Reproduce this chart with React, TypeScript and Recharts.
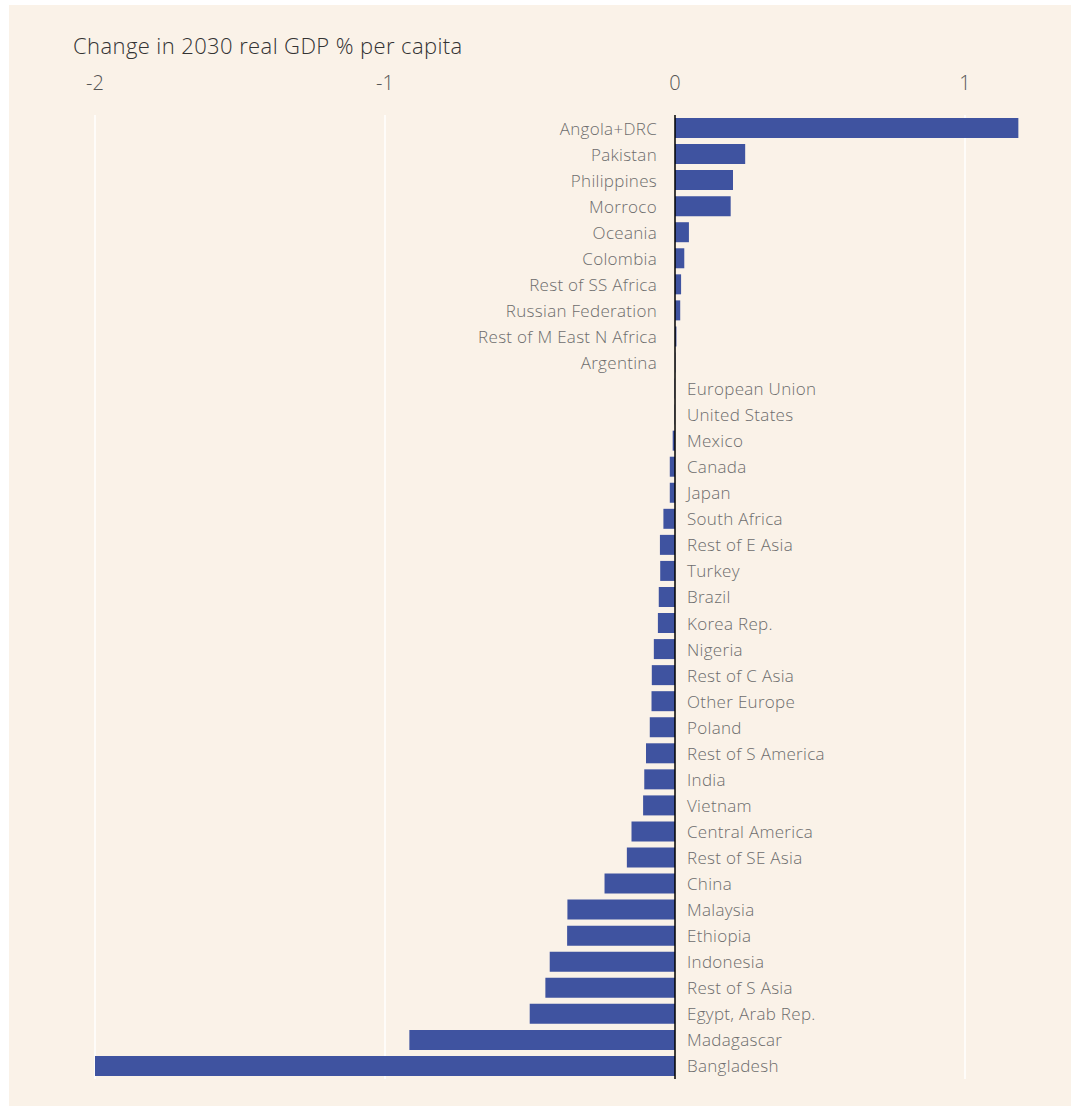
import React from 'react';
import {
  BarChart,
  Bar,
  XAxis,
  YAxis,
  CartesianGrid,
  ReferenceLine,
  LabelList,
} from 'recharts';

const countries = [
  'Angola+DRC',
  'Pakistan',
  'Philippines',
  'Morroco',
  'Oceania',
  'Colombia',
  'Rest of SS Africa',
  'Russian Federation',
  'Rest of M East N Africa',
  'Argentina',
  'European Union',
  'United States',
  'Mexico',
  'Canada',
  'Japan',
  'South Africa',
  'Rest of E Asia',
  'Turkey',
  'Brazil',
  'Korea Rep.',
  'Nigeria',
  'Rest of C Asia',
  'Other Europe',
  'Poland',
  'Rest of S America',
  'India',
  'Vietnam',
  'Central America',
  'Rest of SE Asia',
  'China',
  'Malaysia',
  'Ethiopia',
  'Indonesia',
  'Rest of S Asia',
  'Egypt, Arab Rep.',
  'Madagascar',
  'Bangladesh',
];

const gdpChange = [
  1.184, 0.242, 0.2, 0.192, 0.048, 0.032, 0.021, 0.018, 0.005, 0.001,
  -0.001, -0.001, -0.008, -0.018, -0.018, -0.04, -0.052, -0.051, -0.056,
  -0.059, -0.073, -0.08, -0.081, -0.087, -0.1, -0.106, -0.11, -0.15, -0.166,
  -0.243, -0.371, -0.372, -0.432, -0.447, -0.501, -0.916, -2.0,
];

const xTicks = [-2, -1, 0, 1];
const gridValues = [-2, -1, 1];

const data = countries.map((name, i) => ({ name, value: gdpChange[i] }));

const BG = '#faf2e8';
const BAR = '#3f53a0';
const LABEL = '#6d6d6d';
const FONT = '"Open Sans", Lato, sans-serif';

const TopTick = (props: any) => {
  const { x, payload } = props;
  return (
    <text
      x={x}
      y={77}
      textAnchor="middle"
      dominantBaseline="central"
      fontSize={20}
      fill="#555555"
      fontFamily={FONT}
      fontWeight={300}
    >
      {payload.value}
    </text>
  );
};

const CountryLabel = (props: any) => {
  const { x, y, width, height, index } = props;
  const v = gdpChange[index];
  // zero position: bars with negative values may come back normalised
  const base = v < 0 ? (width > 0 ? x + width : x) : x;
  const right = v <= 0;
  return (
    <text
      x={right ? base + 12 : base - 18}
      y={y + height / 2}
      textAnchor={right ? 'start' : 'end'}
      dominantBaseline="central"
      fontSize={17}
      letterSpacing={0.3}
      fill={LABEL}
      fontFamily={FONT}
      fontWeight={300}
    >
      {countries[index]}
    </text>
  );
};

export default function App() {
  return (
    <div
      style={{
        position: 'absolute',
        left: 9,
        top: 5,
        width: 1062,
        height: 1101,
        background: BG,
        fontFamily: FONT,
      }}
    >
      <div
        style={{
          position: 'absolute',
          left: 64,
          top: 27,
          fontSize: 22,
          letterSpacing: 0.4,
          lineHeight: '26px',
          color: '#333333',
          fontWeight: 300,
          whiteSpace: 'nowrap',
        }}
      >
        Change in 2030 real GDP % per capita
      </div>
      <BarChart
        width={1062}
        height={1101}
        data={data}
        layout="vertical"
        margin={{ top: 70, right: 48, bottom: 27, left: 86 }}
        style={{ position: 'absolute', left: 0, top: 0 }}
      >
        <CartesianGrid
          horizontal={false}
          verticalValues={gridValues}
          stroke="#ffffff"
          strokeWidth={1.5}
        />
        <XAxis
          type="number"
          orientation="top"
          domain={[-2, 1.2]}
          ticks={xTicks}
          height={40}
          axisLine={false}
          tickLine={false}
          tick={<TopTick />}
          allowDataOverflow
        />
        <YAxis type="category" dataKey="name" hide />
        <Bar dataKey="value" fill={BAR} barSize={20} isAnimationActive={false}>
          <LabelList dataKey="name" content={<CountryLabel />} />
        </Bar>
        <ReferenceLine x={0} stroke="#000000" strokeWidth={1.5} />
      </BarChart>
    </div>
  );
}
